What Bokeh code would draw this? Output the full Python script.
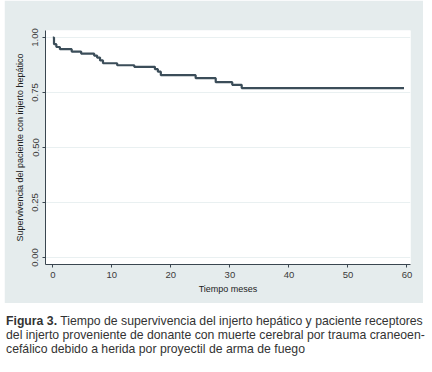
from bokeh.plotting import figure
from bokeh.models import Range1d, FixedTicker, Div, Column
from bokeh.embed import file_html
from bokeh.resources import INLINE

# Kaplan-Meier estimate
months = [0, 0.2, 0.6, 1.2, 3.2, 4.8, 7.0, 7.5, 8.0, 8.5, 10.9, 13.8, 17.3, 17.8, 18.3, 24.2, 27.6, 30.4, 32.0, 59.5]
survival = [1.0, 0.97, 0.957, 0.947, 0.936, 0.927, 0.918, 0.909, 0.896, 0.883, 0.874, 0.867, 0.856, 0.845, 0.829, 0.815, 0.797, 0.785, 0.77, 0.77]

x_ticks = [0, 10, 20, 30, 40, 50, 60]
y_ticks = [0.0, 0.25, 0.5, 0.75, 1.0]
y_tick_labels = {0.0: "0.00", 0.25: "0.25", 0.5: "0.50", 0.75: "0.75", 1.0: "1.00"}

PANEL = "#e5eced"
FONT = "Liberation Sans"

p = figure(frame_width=365, frame_height=234, output_backend="svg", toolbar_location=None,
           x_range=Range1d(-1.24, 60.6), y_range=Range1d(-0.032, 1.032),
           min_border_left=41, min_border_right=13, min_border_top=30, min_border_bottom=39)
p.border_fill_color = PANEL
p.background_fill_color = "white"
p.outline_line_color = None

p.step(months, survival, mode="after", line_color="#3b4d59", line_width=2.2)

p.xgrid.grid_line_color = None
p.ygrid.grid_line_color = "#e9f0f1"
p.ygrid.grid_line_width = 1

for ax in (p.xaxis[0], p.yaxis[0]):
    ax.axis_line_color = "#3a4650"
    ax.axis_line_width = 1
    ax.major_tick_line_color = "#3a4650"
    ax.major_tick_in = 0
    ax.major_tick_out = 3
    ax.minor_tick_line_color = None
    ax.major_label_text_font = FONT
    ax.major_label_text_font_size = "9.5px"
    ax.major_label_text_color = "#3a3a3a"
    ax.axis_label_text_font = FONT
    ax.axis_label_text_font_size = "9px"
    ax.axis_label_text_font_style = "normal"
    ax.axis_label_text_color = "#222222"

p.xaxis.ticker = FixedTicker(ticks=x_ticks)
p.yaxis.ticker = FixedTicker(ticks=y_ticks)
p.yaxis.major_label_overrides = y_tick_labels
p.yaxis.major_label_orientation = "vertical"
p.xaxis.axis_label = "Tiempo meses"
p.yaxis.axis_label = "Supervivencia del paciente con injerto hepático"
p.xaxis.major_label_standoff = 4
p.xaxis.axis_label_standoff = 3
p.yaxis.major_label_standoff = 4
p.yaxis.axis_label_standoff = 5

caption = Div(text=(
    '<div style="font-family: \'Liberation Sans\', Arial, sans-serif; font-size: 12.25px; '
    'line-height: 14px; color: #333333; white-space: nowrap;">'
    '<b>Figura 3.</b> Tiempo de supervivencia del injerto hepático y paciente receptores<br>'
    'del injerto proveniente de donante con muerte cerebral por trauma craneoen-<br>'
    'cefálico debido a herida por proyectil de arma de fuego</div>'),
    width=426, height=50, margin=(11, 0, 0, 2))

layout = Column(children=[p, caption], margin=(0, 0, 0, 4), spacing=0)

open("out.html", "w").write(file_html(layout, INLINE))
